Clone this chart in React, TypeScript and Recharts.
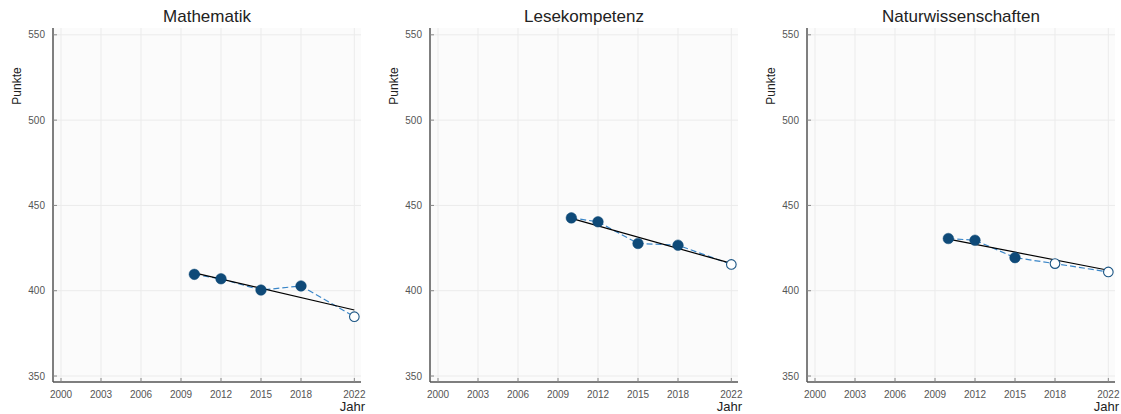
import React from 'react';
import { ComposedChart, Line, XAxis, YAxis, CartesianGrid } from 'recharts';

const years = [2010, 2012, 2015, 2018, 2022];
const mathValues = [409.6, 407.0, 400.4, 402.8, 384.8];
const readingValues = [442.7, 440.4, 427.7, 426.7, 415.4];
const scienceValues = [430.6, 429.6, 419.4, 415.9, 411.0];
const mathOpen = [false, false, false, false, true];
const readingOpen = [false, false, false, false, true];
const scienceOpen = [false, false, false, true, true];
const trendYears = [2010, 2022];
const mathTrend = [410.5, 388.7];
const readingTrend = [442.4, 416.0];
const scienceTrend = [430.2, 412.0];
const xTicks = [2000, 2003, 2006, 2009, 2012, 2015, 2018, 2022];
const yTicks = [350, 400, 450, 500, 550];
const titles = ['Mathematik', 'Lesekompetenz', 'Naturwissenschaften'];
const yLabel = 'Punkte';
const xLabel = 'Jahr';

const FONT = '"Liberation Sans", Arial, sans-serif';
const PANEL_W = 377;
const H = 414;

function buildRows(values: number[], open: boolean[], trend: number[]) {
  return years.map((y, i) => {
    const ti = trendYears.indexOf(y);
    return {
      year: y,
      value: values[i],
      open: open[i],
      trend: ti >= 0 ? trend[ti] : null,
    };
  });
}

const panels = [
  buildRows(mathValues, mathOpen, mathTrend),
  buildRows(readingValues, readingOpen, readingTrend),
  buildRows(scienceValues, scienceOpen, scienceTrend),
];

const MarkerDot = (props: any) => {
  const { cx, cy, payload, index } = props;
  if (cx == null || cy == null) return null;
  if (payload && payload.open) {
    return <circle key={`d${index}`} cx={cx} cy={cy} r={4.8} fill="#ffffff" stroke="#1b5584" strokeWidth={1.1} />;
  }
  return <circle key={`d${index}`} cx={cx} cy={cy} r={5.3} fill="#0f4a78" stroke="#0f4a78" strokeWidth={0.5} />;
};

function Panel({ rows, title, left }: { rows: any[]; title: string; left: number }) {
  return (
    <div style={{ position: 'absolute', left, top: 0, width: PANEL_W, height: H }}>
      <ComposedChart
        width={PANEL_W}
        height={H}
        data={rows}
        margin={{ top: 28, right: 16, bottom: 0, left: 0 }}
      >
        <CartesianGrid
          stroke="#ebebeb"
          strokeWidth={1}
          fill="#fbfbfb"
          verticalValues={xTicks}
          horizontalValues={yTicks}
        />
        <XAxis
          type="number"
          dataKey="year"
          domain={[1999.4, 2022.5]}
          ticks={xTicks}
          interval={0}
          allowDataOverflow
          tickSize={-4}
          tickMargin={13}
          axisLine={{ stroke: '#555555', strokeWidth: 1.5 }}
          tickLine={{ stroke: '#888888', strokeWidth: 1 }}
          tick={{ fontSize: 10, fill: '#555555', fontFamily: FONT }}
          height={32}
        />
        <YAxis
          type="number"
          domain={[346.5, 554]}
          ticks={yTicks}
          interval={0}
          allowDataOverflow
          tickSize={-4}
          tickMargin={12}
          axisLine={{ stroke: '#555555', strokeWidth: 1.5 }}
          tickLine={{ stroke: '#888888', strokeWidth: 1 }}
          tick={{ fontSize: 10, fill: '#555555', fontFamily: FONT }}
          width={53}
        />
        <Line
          type="linear"
          dataKey="value"
          stroke="#3a86c8"
          strokeWidth={1.2}
          strokeDasharray="6 3"
          dot={<MarkerDot />}
          activeDot={false}
          isAnimationActive={false}
        />
        <Line
          type="linear"
          dataKey="trend"
          stroke="#000000"
          strokeWidth={1.2}
          connectNulls
          dot={false}
          activeDot={false}
          isAnimationActive={false}
        />
      </ComposedChart>
      <div
        style={{
          position: 'absolute', left: 53, width: 308, top: 7, textAlign: 'center',
          fontFamily: FONT, fontSize: 17, color: '#222222', lineHeight: '20px',
        }}
      >
        {title}
      </div>
      <div
        style={{
          position: 'absolute', left: 17, top: 86, width: 0, height: 0,
        }}
      >
        <div
          style={{
            position: 'absolute', left: 0, top: 0, transform: 'translate(-50%, -50%) rotate(-90deg)',
            fontFamily: FONT, fontSize: 12, color: '#222222', whiteSpace: 'nowrap', lineHeight: '12px',
          }}
        >
          {yLabel}
        </div>
      </div>
      <div
        style={{
          position: 'absolute', right: PANEL_W - 365, top: 399, textAlign: 'right',
          fontFamily: FONT, fontSize: 13, color: '#222222', lineHeight: '15px',
        }}
      >
        {xLabel}
      </div>
    </div>
  );
}

export default function App() {
  return (
    <div style={{ position: 'absolute', left: 0, top: 0, width: 1121, height: H, background: '#ffffff', overflow: 'hidden' }}>
      {panels.map((rows, i) => (
        <Panel key={i} rows={rows} title={titles[i]} left={i * PANEL_W} />
      ))}
    </div>
  );
}
